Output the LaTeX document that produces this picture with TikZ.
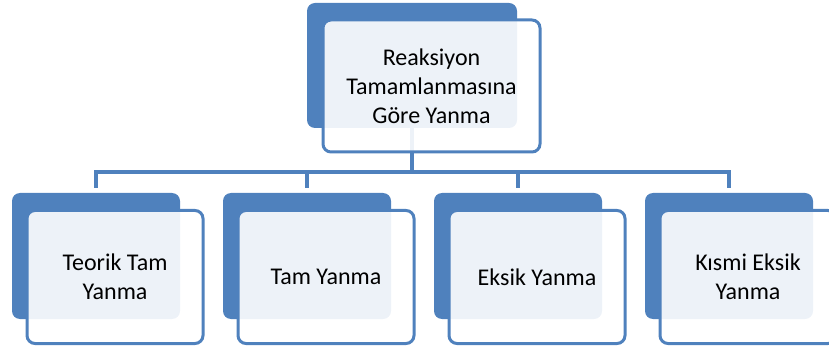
\documentclass[tikz,border=0pt]{standalone}
\usepackage{fontspec}
\setmainfont{Carlito}
\definecolor{boxblue}{HTML}{4F81BD}
\tikzset{%
  backbox/.style  = {shape=rectangle, rounded corners=8pt,%
                     fill=boxblue, draw=none},%
  frontbox/.style = {shape=rectangle, rounded corners=8pt,%
                     draw=boxblue, line width=3pt, fill=white,%
                     fill opacity=0.9, text opacity=1, align=center,%
                     font=\fontsize{24}{29}\selectfont},%
  link/.style     = {draw=boxblue, line width=3.5pt}%
}
\begin{document}
\begin{tikzpicture}[x=1pt,y=-1pt]
  \useasboundingbox (0,0) rectangle (829,347);
  % back panels
  \node[backbox, minimum width=210pt, minimum height=125pt] (topback) at (412,65.5) {};
  \foreach \i in {0,...,3}
    \node[backbox, minimum width=168pt, minimum height=126pt] (back\i) at (96+211*\i,256) {};
  % connectors
  \coordinate (bus) at (412,172);
  \draw[link] (topback.south) -- (bus);
  \foreach \i in {0,...,3}
    \draw[link, shorten >=5pt] (bus) -| (back\i.north);
  % front panels
  \node[frontbox, minimum width=217pt, minimum height=132pt] (top) at (431.5,86)
    {Reaksiyon\\Tamamlanmasına\\Göre Yanma};
  \foreach \i/\txt in {0/{Teorik Tam\\Yanma}, 1/{Tam Yanma},
                       2/{Eksik Yanma}, 3/{Kısmi Eksik\\Yanma}}
    \node[frontbox, minimum width=176pt, minimum height=133pt] (item\i) at (115+211*\i,277) {\txt};
\end{tikzpicture}
\end{document}
